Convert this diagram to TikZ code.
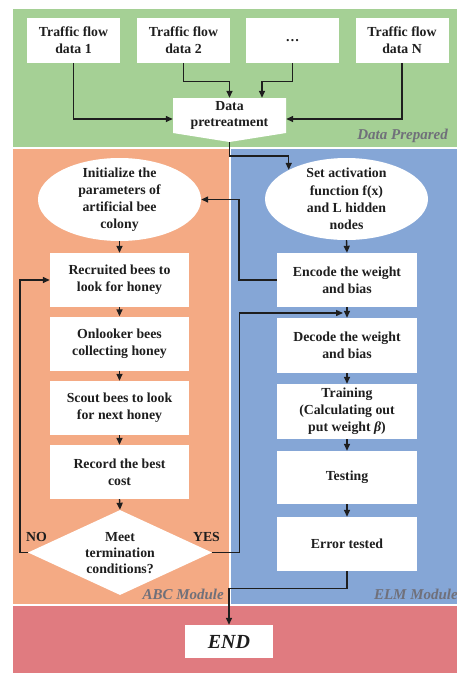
\documentclass[tikz,border=0pt]{standalone}
\usepackage{fontspec}
\setmainfont{Liberation Serif}
\usetikzlibrary{shapes.geometric,arrows.meta,calc}
\definecolor{bggreen}{RGB}{165,208,149}
\definecolor{bgorange}{RGB}{244,170,132}
\definecolor{bgblue}{RGB}{133,166,214}
\definecolor{bgred}{RGB}{224,123,128}
\definecolor{lblgray}{RGB}{112,112,122}
\definecolor{ink}{RGB}{30,30,30}
\begin{document}
\begin{tikzpicture}[x=1pt,y=-1pt,
  txt/.style={font=\bfseries\fontsize{13.8}{16.8}\selectfont, align=center, text=ink, inner sep=0pt},
  box/.style={txt, fill=white},
  tbox/.style={box, minimum width=93pt, minimum height=45pt},
  abox/.style={box, minimum width=139pt, minimum height=54pt},
  ebox/.style={box, minimum width=140pt, minimum height=54pt},
  oval/.style={ellipse, fill=white, minimum width=163pt, minimum height=83pt, inner sep=0pt},
  arr/.style={-{Triangle[length=7pt,width=6pt]}, line width=1.4pt, draw=ink},
  modlbl/.style={font=\bfseries\itshape\fontsize{15}{18}\selectfont, text=lblgray, inner sep=0pt}
]
\useasboundingbox (0,0) rectangle (457,673);
% panels
\fill[bggreen] (13,9) rectangle (457,147);
\fill[bgorange] (13,149) rectangle (228.5,604);
\fill[bgblue] (230.5,149) rectangle (457,604);
\fill[bgred] (13,606) rectangle (457,673);

% data prepared
\node[tbox] (t1) at (73.5,40.5) {Traffic flow\\data 1};
\node[tbox] (t2) at (183.5,40.5) {Traffic flow\\data 2};
\node[tbox] (t3) at (292.5,40.5) {…};
\node[tbox] (t4) at (402,40.5) {Traffic flow\\data N};
\fill[white] (173,98) -- (286,98) -- (286,133) -- (229.5,142) -- (173,133) -- cycle;
\node[txt, minimum width=113pt, minimum height=35pt] (pre) at (229.5,115.5) {Data\\pretreatment};
\coordinate (pretip) at (229.5,142);

\draw[arr] (t1.south) |- ($(pre.west)+(0,3.5)$);
\draw[arr] (t2.south) -- ++(0,18) -| (pre.north);
\draw[arr] (t3.south) -- ++(0,18) -| ($(pre.north)+(32.5,0)$);
\draw[arr] (t4.south) |- ($(pre.east)+(0,3.5)$);

% ABC module
\node[oval] (abc) at (119.5,199.5) {};
\node[txt, font=\bfseries\fontsize{13.8}{17.2}\selectfont] (abctxt) at (abc.center) {Initialize the\\parameters of\\artificial bee\\colony};
\node[abox] (rec) at (119.5,280) {Recruited bees to\\look for honey};
\node[abox] (onl) at (119.5,343.5) {Onlooker bees\\collecting honey};
\node[abox] (sco) at (119.5,408) {Scout bees to look\\for next honey};
\node[abox] (best) at (119.5,472) {Record the best\\cost};
\node[diamond, fill=white, minimum width=184pt, minimum height=85pt, inner sep=0pt] (dia) at (120,552.5) {};
\node[txt, font=\bfseries\fontsize{13.8}{16.2}\selectfont] (diatxt) at ($(dia.center)+(0,0.5)$) {Meet\\termination\\conditions?};
\node[txt] (no) at (36.5,537) {NO};
\node[txt] (yes) at (206.5,537) {YES};

\draw[arr] (abc.south) -- (rec.north);
\draw[arr] (rec.south) -- (onl.north);
\draw[arr] (onl.south) -- (sco.north);
\draw[arr] (sco.south) -- (best.north);
\draw[arr] (best.south) -- (dia.north);
\draw[arr] (dia.west) -- ++(-8,0) |- (rec.west);

% ELM module
\node[oval, minimum height=82pt] (elm) at (346.5,199) {};
\node[txt, font=\bfseries\fontsize{13.8}{17.2}\selectfont] (elmtxt) at (elm.center) {Set activation\\function f(x)\\and L hidden\\nodes};
\node[ebox] (enc) at (347,280) {Encode the weight\\and bias};
\node[ebox, minimum height=55pt] (dec) at (347,345.5) {Decode the weight\\and bias};
\node[ebox, minimum height=55pt] (tra) at (347,411.5) {Training\\(Calculating out\\put weight \textit{β})};
\node[ebox, minimum height=53pt] (tes) at (347,477.5) {Testing};
\node[ebox] (err) at (347,544) {Error tested};

\draw[arr] (pretip) -- ++(0,14) -| (elm.north west);
\draw[arr] (elm.south) -- (enc.north);
\draw[arr] (enc.south) -- (dec.north);
\draw[arr] (dec.south) -- (tra.north);
\draw[arr] (tra.south) -- (tes.north);
\draw[arr] (tes.south) -- (err.north);
\draw[arr] (enc.west) -- ++(-38,0) |- (abc.east);
\coordinate (yesend) at (343,313);
\draw[arr] (dia.east) -- ++(27,0) |- (yesend);

% END
\node[box, minimum width=88pt, minimum height=33pt, font=\bfseries\itshape\fontsize{20}{24}\selectfont] (endn) at (229,641.5) {END};
\draw[arr] (err.south) -- ++(0,17) -| (endn.north);

% module labels
\node[modlbl, anchor=base east] (lbldp) at (448,139) {Data Prepared};
\node[modlbl, anchor=base east] (lblabc) at (224,599) {ABC Module};
\node[modlbl, anchor=base east] (lblelm) at (458,599) {ELM Module};
\end{tikzpicture}
\end{document}
